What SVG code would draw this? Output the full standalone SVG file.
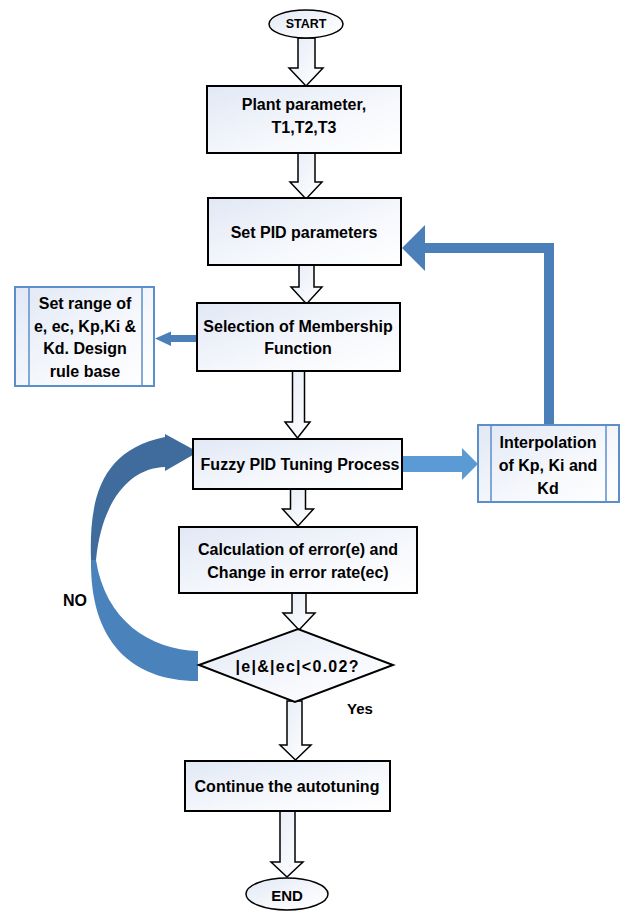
<svg xmlns="http://www.w3.org/2000/svg" width="621" height="911" viewBox="0 0 621 911">
<defs>
<linearGradient id="gfill" x1="0" y1="0" x2="1" y2="1">
<stop offset="0" stop-color="#E1E8F5"/>
<stop offset="0.6" stop-color="#F6F8FC"/>
<stop offset="1" stop-color="#FFFFFF"/>
</linearGradient>
<linearGradient id="afill" x1="0" y1="0" x2="1" y2="1">
<stop offset="0" stop-color="#E6ECF6"/>
<stop offset="1" stop-color="#FFFFFF"/>
</linearGradient>
<style>
.box{fill:url(#gfill);stroke:#000;stroke-width:2}
.pp{fill:url(#gfill);stroke:#5B8FCB;stroke-width:2}
.ppl{fill:none;stroke:#5B8FCB;stroke-width:1.5}
.blk{fill:url(#afill);stroke:#000;stroke-width:1.5;stroke-linejoin:miter}
.t{font-family:"Liberation Sans",Arial,sans-serif;font-weight:bold;font-size:16px;fill:#000;text-anchor:middle;dominant-baseline:central}
.blue{fill:#4B7FBA}
.lblue{fill:#5B9BD5}
</style>
</defs>
<rect width="621" height="911" fill="#fff"/>

<g id="connectors">
<polygon class="blk" points="298,38 315,38 315,68 323,68 306,86 289,68 298,68"/>
<polygon class="blk" points="298,153 315,153 315,182 322,182 306,199 290,182 298,182"/>
<polygon class="blk" points="299,265 314,265 314,287 322,287 306.5,304 291,287 299,287"/>
<polygon class="blk" points="292.5,371 304.5,371 304.5,422 310,422 297.5,438 285,422 292.5,422"/>
<polygon class="blk" points="290.5,489 305.5,489 305.5,509 313.5,509 298,526 282.5,509 290.5,509"/>
<polygon class="blk" points="292,593 306,593 306,613 315,613 299,630 283,613 292,613"/>
<polygon class="blk" points="287,701 302,701 302,745 311,745 295.5,760 280,745 287,745"/>
<polygon class="blk" points="280,811 295,811 295,862 303,862 287,877 271,862 280,862"/>
<polygon class="blue" points="544,426 544,253 425,253 425,271 402,248 425,225 425,243 554,243 554,426"/>
<polygon class="blue" points="197,335 171,335 171,331.5 155,338.5 171,346 171,342 197,342"/>
<polygon class="lblue" points="403,456 462,456 462,448 478,464 462,480 462,472 403,472"/>
<path fill="#4A82BC" d="M91,560 C90,640 130,681 198,681 L198,651 C150,650 105,620 96,560 Z"/>
<path fill="#3F6C9C" d="M91,560 C89,500 100,450 165,437 L165,434 L198,452 L165,471 L165,467 C130,468 102,500 96,560 Z"/>
</g>

<g id="start">
<ellipse cx="306" cy="24" rx="37" ry="14" fill="url(#gfill)" stroke="#000" stroke-width="1.5"/>
<text class="t" x="306" y="24" style="font-size:12.5px">START</text>
</g>

<g id="plant">
<rect class="box" x="207" y="86" width="194" height="67"/>
<text class="t" x="304" y="104">Plant parameter,</text>
<text class="t" x="304" y="127">T1,T2,T3</text>
</g>

<g id="setpid">
<rect class="box" x="208" y="198" width="193" height="67"/>
<text class="t" x="304" y="232">Set PID parameters</text>
</g>

<g id="selection">
<rect class="box" x="197" y="303" width="203" height="68"/>
<text class="t" x="298" y="326">Selection of Membership</text>
<text class="t" x="298" y="348">Function</text>
</g>

<g id="setrange">
<rect class="pp" x="15" y="287" width="139" height="99"/>
<line class="ppl" x1="29" y1="287" x2="29" y2="386"/>
<line class="ppl" x1="142" y1="287" x2="142" y2="386"/>
<text class="t" x="85" y="303">Set range of</text>
<text class="t" x="85" y="326">e, ec, Kp,Ki &amp;</text>
<text class="t" x="85" y="348">Kd. Design</text>
<text class="t" x="85" y="371">rule base</text>
</g>

<g id="fuzzy">
<rect class="box" x="193" y="439" width="209" height="50"/>
<text class="t" x="300" y="464">Fuzzy PID Tuning Process</text>
</g>

<g id="interp">
<rect class="pp" x="478" y="425" width="141" height="77"/>
<line class="ppl" x1="491" y1="425" x2="491" y2="502"/>
<line class="ppl" x1="606" y1="425" x2="606" y2="502"/>
<text class="t" x="548" y="442">Interpolation</text>
<text class="t" x="548" y="465">of Kp, Ki and</text>
<text class="t" x="548" y="488">Kd</text>
</g>

<g id="calc">
<rect class="box" x="179" y="527" width="238" height="66"/>
<text class="t" x="298" y="549">Calculation of error(e) and</text>
<text class="t" x="298" y="572">Change in error rate(ec)</text>
</g>

<g id="decision">
<polygon points="199,665 298,629 393,665 295,702" fill="url(#gfill)" stroke="#000" stroke-width="2"/>
<text class="t" x="297" y="666" textLength="123" lengthAdjust="spacing">|e|&amp;|ec|&lt;0.02?</text>
</g>

<g id="labels">
<text class="t" x="75" y="600">NO</text>
<text class="t" x="360" y="708" style="font-size:15px">Yes</text>
</g>

<g id="continue">
<rect class="box" x="185" y="761" width="205" height="50"/>
<text class="t" x="287" y="786">Continue the autotuning</text>
</g>

<g id="end">
<ellipse cx="287" cy="894" rx="41" ry="16" fill="url(#gfill)" stroke="#000" stroke-width="1.5"/>
<text class="t" x="287" y="895" style="font-size:15px">END</text>
</g>
</svg>
